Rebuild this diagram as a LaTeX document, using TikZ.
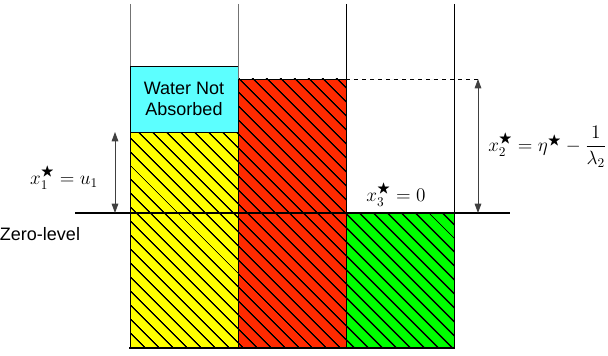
\documentclass[tikz,border=0pt]{standalone}
\usepackage{amsmath,amssymb}
\usepackage{fontspec}
\setmainfont{Liberation Serif}
\newfontfamily\labelfont{Liberation Sans}
\usepackage{xcolor}
\usetikzlibrary{arrows.meta,positioning,patterns.meta}

\definecolor{tankyellow}{HTML}{FFFF00}
\definecolor{tankred}{HTML}{FF2A00}
\definecolor{tankgreen}{HTML}{00FF00}
\definecolor{tankcyan}{HTML}{5CFFFF}

\begin{document}
\begin{tikzpicture}[
  x=0.75pt, y=-0.75pt,
  wall/.style={line width=0.75pt},
  tank/.style={draw=black, line width=0.6pt, pattern={Lines[angle=-45, distance=7.4pt, line width=1.1pt]}},
  level/.style={line width=1.5pt},
  dim/.style={{Triangle[length=7pt,width=5pt]}-{Triangle[length=7pt,width=5pt]}, black!75, line width=0.6pt},
  txt/.style={font=\labelfont\fontsize{13.5}{15.5}\selectfont, align=center},
  eq/.style={font=\fontsize{14.8}{17}\selectfont, inner sep=0pt},
]
\useasboundingbox (0,0) rectangle (608,356);

% filled columns
\draw[tank, preaction={fill=tankyellow}] (130,132) rectangle (238,348);
\draw[tank, preaction={fill=tankred}]    (238,79)  rectangle (346,348);
\draw[tank, preaction={fill=tankgreen}]  (346,213) rectangle (454,348);
\draw[fill=tankcyan, line width=0.6pt] (130,66) rectangle (238,132);

% walls
\draw[wall, black!55] (130,4) -- (130,66);
\draw[wall, black!55] (238,4) -- (238,79);
\draw[wall] (346,4) -- (346,213);
\draw[wall] (454,4) -- (454,213);

% levels
\draw[level] (75,213) -- (510,213);
\draw[level] (129,348) -- (455,348);
\draw[dashed, line width=0.6pt] (346,79) -- (478,79);

% labels
\node[txt] (water) at (184,99) {Water Not\\Absorbed};
\node[txt] (zero)  at (40,234) {Zero-level};
\node[eq] (x1) at (64,178) {$x_1^{\bigstar}=u_1$};
\node[eq] (x3) at (396,195) {$x_3^{\bigstar}=0$};
\node[eq, anchor=west] (x2) at (488,147) {$x_2^{\bigstar}=\eta^{\bigstar}-\dfrac{1}{\lambda_2}$};

% dimension arrows
\coordinate (u1top) at (115,132);
\coordinate (u1bot) at (115,213);
\coordinate (u2top) at (478,79);
\coordinate (u2bot) at (478,213);
\draw[dim] (u1top) -- (u1bot);
\draw[dim] (u2top) -- (u2bot);
\end{tikzpicture}
\end{document}
